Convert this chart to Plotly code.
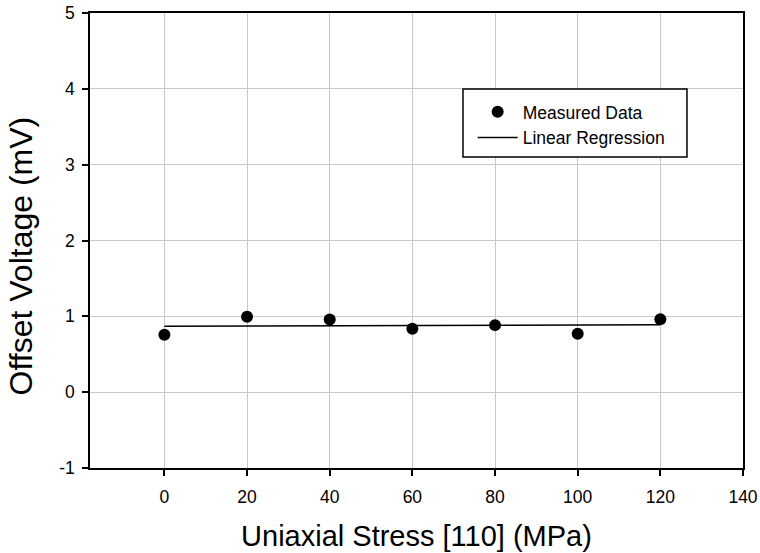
import numpy as np
import plotly.graph_objects as go

# Measured offset voltage versus uniaxial stress along [110]
stress_mpa = [0, 20, 40, 60, 80, 100, 120]
offset_mv = [0.756, 0.993, 0.958, 0.835, 0.884, 0.769, 0.963]

x_ticks = [0, 20, 40, 60, 80, 100, 120, 140]
y_ticks = [-1, 0, 1, 2, 3, 4, 5]
y_tick_text = ["-1", "0", "1", "2", "3", "4", "5"]

# Least-squares straight line through the measurements
slope, intercept = np.polyfit(stress_mpa, offset_mv, 1)
fit_x = [stress_mpa[0], stress_mpa[-1]]
fit_y = [slope * v + intercept for v in fit_x]

FONT = "Liberation Sans, Arial, sans-serif"

fig = go.Figure()
fig.add_trace(go.Scatter(
    x=stress_mpa, y=offset_mv, mode="markers", name="Measured Data",
    marker=dict(color="black", size=12, line=dict(width=0)),
))
fig.add_trace(go.Scatter(
    x=fit_x, y=fit_y, mode="lines", name="Linear Regression",
    line=dict(color="black", width=1.5),
))

axis_common = dict(
    showgrid=True, gridcolor="#c8c8c8", gridwidth=1,
    showline=True, linecolor="black", linewidth=1.5, mirror=True,
    ticks="outside", ticklen=6, tickcolor="black", tickwidth=1.5,
    zeroline=False, automargin=False,
    tickfont=dict(family=FONT, size=17.5, color="black"),
)

fig.update_xaxes(
    range=[-18, 140], tickvals=x_ticks, ticklabelstandoff=6,
    title=dict(text="Uniaxial Stress [110] (MPa)",
               font=dict(family=FONT, size=29, color="black"), standoff=20),
    **axis_common,
)
fig.update_yaxes(
    range=[-1, 5], tickvals=y_ticks, ticktext=y_tick_text, ticklabelstandoff=4,
    **axis_common,
)

# Vertical axis title
fig.add_annotation(
    text="Offset Voltage (mV)", xref="paper", yref="paper",
    x=-0.105, y=0.466, xanchor="center", yanchor="middle",
    textangle=-90, showarrow=False,
    font=dict(family=FONT, size=32, color="black"),
)

# Legend frame
fig.add_shape(type="rect", xref="paper", yref="paper",
              x0=0.5712, x1=0.9142, y0=0.6835, y1=0.833,
              line=dict(color="black", width=1.5), fillcolor="white", layer="above")

fig.update_layout(
    width=760, height=553,
    margin=dict(l=90, r=17, t=13, b=85),
    plot_bgcolor="white", paper_bgcolor="white",
    showlegend=True,
    legend=dict(
        x=0.586, y=0.822, xanchor="left", yanchor="top",
        bgcolor="rgba(0,0,0,0)", borderwidth=0,
        font=dict(family=FONT, size=17.5, color="black"),
        itemwidth=40, tracegroupgap=0,
    ),
)

fig.write_html("out.html")
